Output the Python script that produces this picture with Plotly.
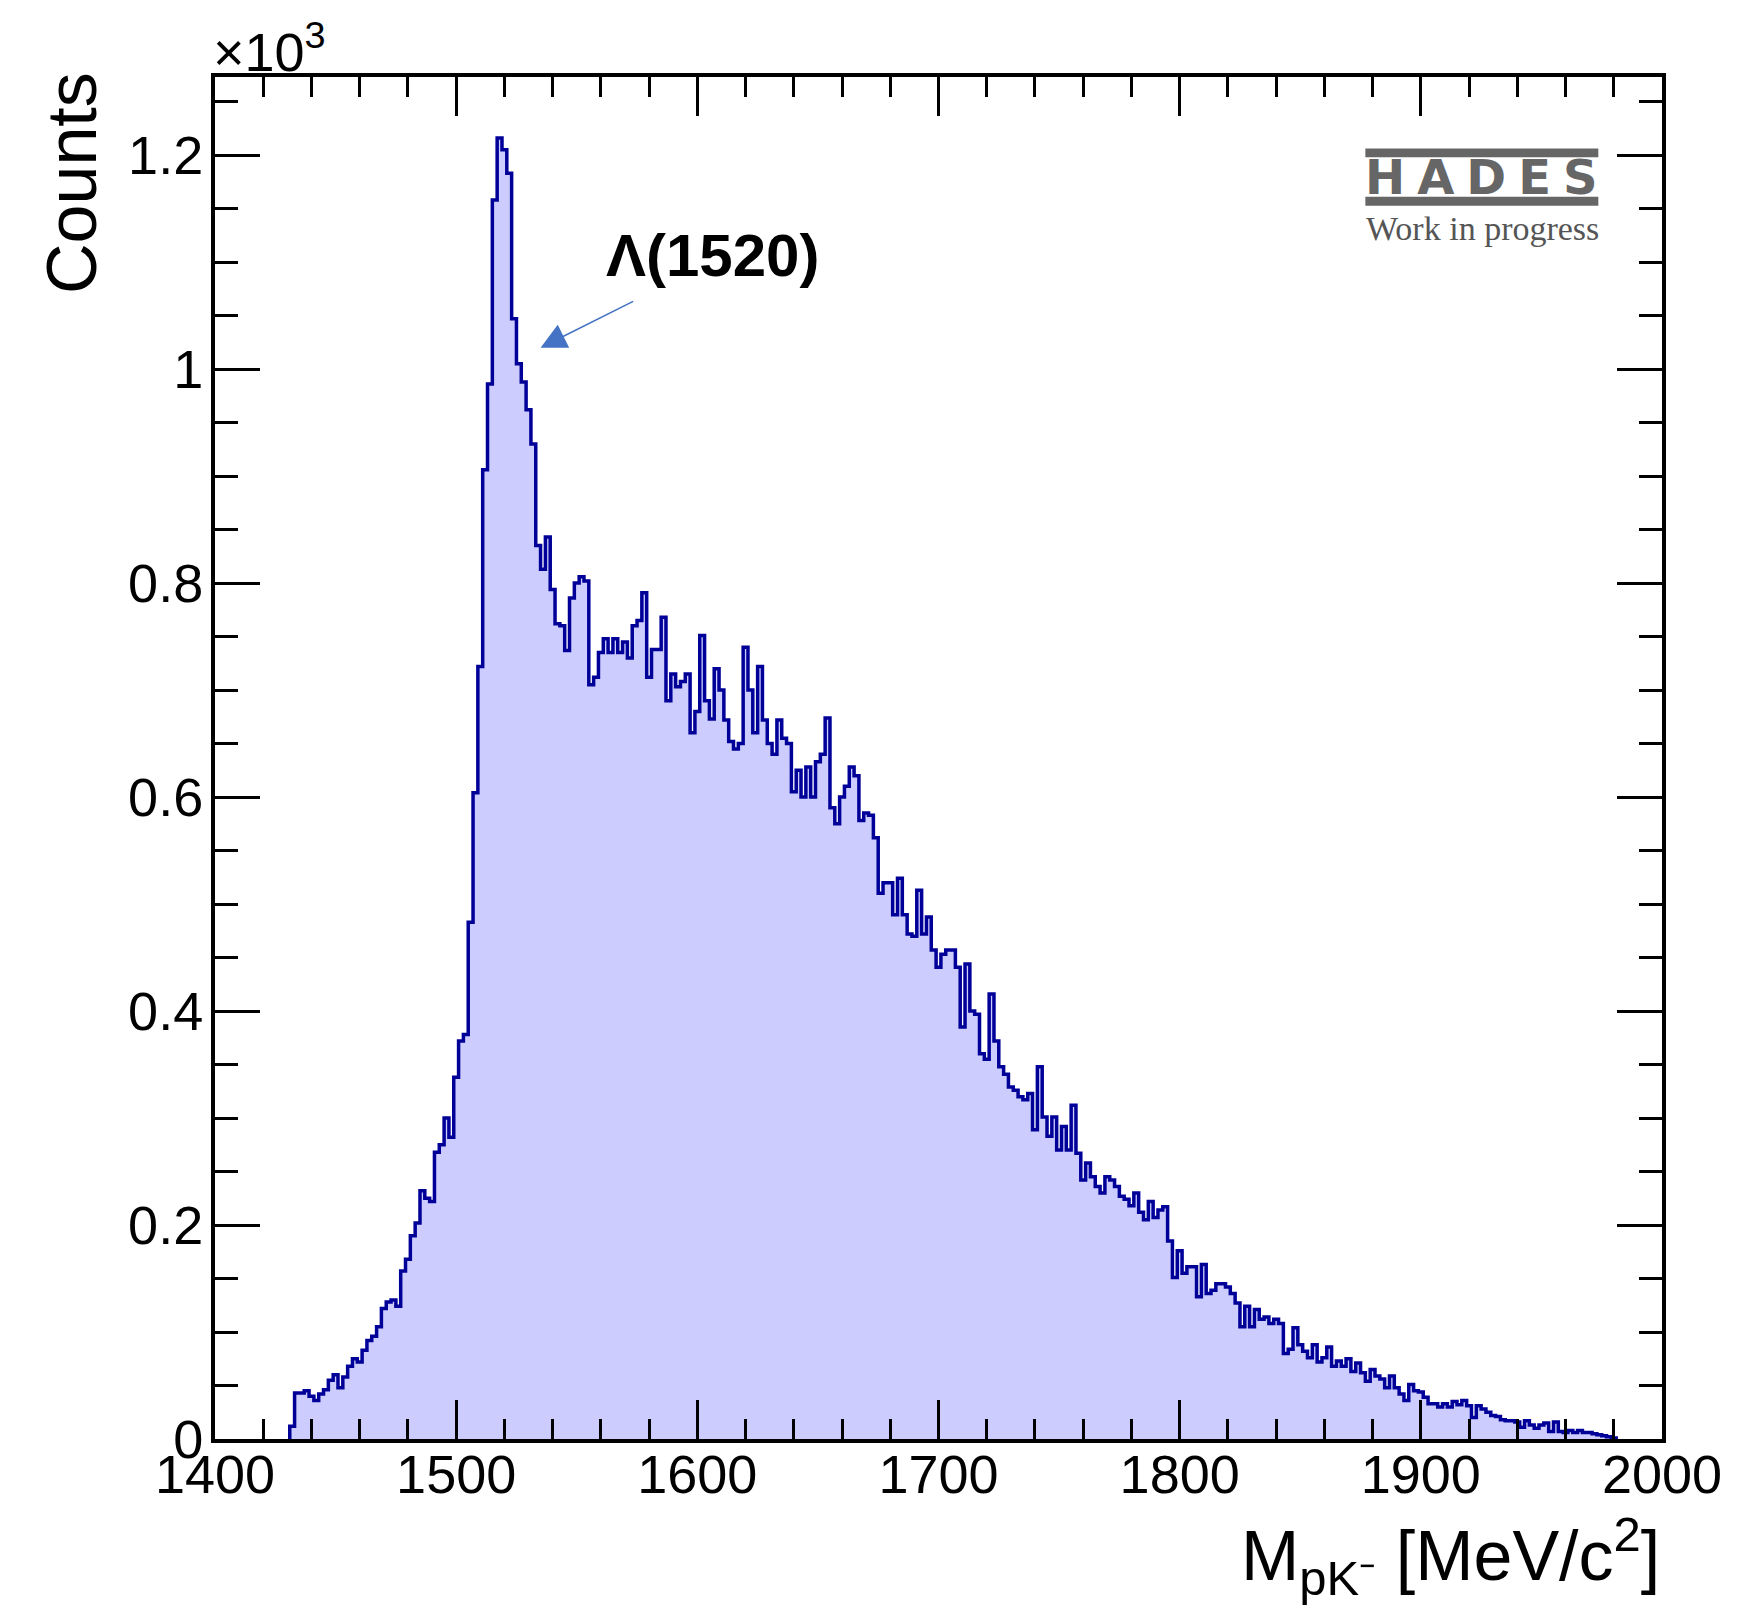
import numpy as np
import plotly.graph_objects as go

# ---------------- data ----------------
BIN_START = 1431     # MeV/c^2, lower edge of first filled bin
BIN_WIDTH = 2        # MeV/c^2

counts = [
    12, 43, 43, 45, 40, 36, 42, 46, 55, 60,
    48, 58, 68, 75, 72, 83, 92, 96, 105, 122,
    128, 130, 124, 157, 168, 190, 202, 232, 225, 222,
    268, 275, 300, 282, 338, 372, 378, 483, 604, 722,
    906, 986, 1158, 1216, 1205, 1183, 1047, 1005, 988, 962,
    930, 835, 813, 843, 794, 762, 760, 737, 786, 800,
    806, 802, 705, 712, 735, 748, 735, 748, 735, 745,
    730, 760, 765, 791, 712, 738, 738, 768, 690, 715,
    703, 708, 715, 660, 680, 751, 690, 673, 720, 700,
    672, 652, 645, 650, 740, 700, 660, 722, 672, 650,
    640, 672, 655, 650, 605, 625, 600, 628, 600, 633,
    640, 674, 590, 575, 600, 610, 628, 620, 578, 585,
    583, 562, 510, 520, 520, 490, 524, 490, 472, 470,
    513, 472, 488, 457, 441, 453, 457, 457, 441, 385,
    444, 400, 397, 360, 355, 416, 372, 348, 341, 329,
    326, 320, 317, 323, 289, 348, 301, 283, 301, 270,
    292, 270, 312, 267, 242, 258, 245, 236, 230, 245,
    242, 236, 227, 224, 218, 230, 212, 205, 222, 207,
    214, 217, 185, 151, 176, 155, 161, 161, 133, 163,
    136, 139, 145, 145, 142, 136, 127, 105, 124, 105,
    121, 112, 114, 108, 112, 108, 80, 84, 104, 88,
    82, 76, 88, 72, 76, 86, 68, 73, 68, 75,
    63, 71, 62, 54, 65, 59, 56, 48, 59, 48,
    42, 36, 51, 45, 44, 39, 33, 33, 30, 33,
    30, 35, 32, 36, 31, 20, 31, 28, 25, 22,
    21, 18, 17, 17, 16, 11, 17, 13, 10, 13,
    15, 7, 16, 7, 6, 8, 6, 8, 6, 6,
    5, 4, 3, 2, 1,
]

x_tickvals = [1400, 1500, 1600, 1700, 1800, 1900, 2000]
x_ticktext = ["1400", "1500", "1600", "1700", "1800", "1900", "2000"]
y_tickvals = [0, 200, 400, 600, 800, 1000, 1200]
y_ticktext = ["0", "0.2", "0.4", "0.6", "0.8", "1", "1.2"]

X_RANGE = [1400, 2000]
Y_RANGE = [0, 1273]

# ---------------- figure ----------------
edges = BIN_START + BIN_WIDTH * np.arange(len(counts) + 1)
xs = [edges[0]] + list(edges[:-1]) + [edges[-1]]
ys = [0] + list(counts) + [0]

LINE = "#000099"
FILL = "#CCCCFF"
FONT = "Liberation Sans"

fig = go.Figure()
fig.add_trace(go.Scatter(
    x=xs, y=ys, mode="lines",
    line=dict(shape="hv", color=LINE, width=3.5),
    fill="tozeroy", fillcolor=FILL,
    hoverinfo="skip", showlegend=False,
))

axis_common = dict(
    showgrid=False, zeroline=False, automargin=False,
    showline=True, linewidth=4, linecolor="black",
    mirror="ticks", ticks="inside", tickwidth=3, tickcolor="black",
    tickfont=dict(family=FONT, size=54, color="black"),
)

fig.update_xaxes(
    range=X_RANGE, tickmode="array", tickvals=x_tickvals, ticktext=x_ticktext,
    ticklen=39, ticklabelstandoff=-15,
    minor=dict(tickmode="array", tickvals=list(np.arange(1400, 2001, 20)),
               ticks="inside", ticklen=20, tickwidth=3, tickcolor="black"),
    **axis_common,
)
fig.update_yaxes(
    range=Y_RANGE, tickmode="array", tickvals=y_tickvals, ticktext=y_ticktext,
    ticklen=45, ticklabelstandoff=-3,
    minor=dict(tickmode="array", tickvals=list(np.arange(0, 1273, 50)),
               ticks="inside", ticklen=23, tickwidth=3, tickcolor="black"),
    **axis_common,
)

annotations = [
    # x10^3 multiplier
    dict(text="×10<sup>3</sup>", xref="paper", yref="paper", x=-0.003, y=1,
         xanchor="left", yanchor="bottom", yshift=-7, showarrow=False,
         font=dict(family=FONT, size=54, color="black")),
    # y title
    dict(text="Counts", xref="paper", yref="paper", x=-0.099, y=0.922,
         xanchor="center", yanchor="middle", textangle=-90, showarrow=False,
         font=dict(family=FONT, size=70, color="black")),
    # x title
    dict(text="M<sub>pK⁻</sub> [MeV/c<sup>2</sup>]", xref="paper", yref="paper",
         x=1, y=-0.086, xanchor="right", yanchor="middle", showarrow=False,
         font=dict(family=FONT, size=70, color="black")),
    # Lambda label
    dict(text="<b>Λ(1520)</b>", xref="paper", yref="paper", x=0.344, y=0.869,
         xanchor="center", yanchor="middle", showarrow=False,
         font=dict(family=FONT, size=60, color="black")),
    # arrow
    dict(text="", x=1535, y=1020, xref="x", yref="y",
         ax=1574, ay=1064, axref="x", ayref="y",
         showarrow=True, arrowhead=2, arrowsize=3.2, arrowwidth=1.6,
         arrowcolor="#4472C4"),
    # HADES logo text
    dict(text="<b>H\u2005A\u2005D\u2005E\u2005S</b>", xref="paper", yref="paper",
         x=0.8755, y=0.9265, xanchor="center", yanchor="middle", showarrow=False,
         font=dict(family="DejaVu Sans", size=48, color="#666666")),
    dict(text="Work in progress", xref="paper", yref="paper",
         x=0.794, y=0.8885, xanchor="left", yanchor="middle", showarrow=False,
         font=dict(family="Liberation Serif", size=34, color="#555555")),
]

shapes = [
    dict(type="rect", xref="paper", yref="paper", x0=0.795, x1=0.956,
         y0=0.9410, y1=0.9475, fillcolor="#666666", line=dict(width=0)),
    dict(type="rect", xref="paper", yref="paper", x0=0.795, x1=0.956,
         y0=0.9055, y1=0.912, fillcolor="#666666", line=dict(width=0)),
]

# page body adds an 8 px offset; margins compensate so the frame sits where
# the reference frame sits
fig.update_layout(
    width=1749, height=1608, autosize=False,
    margin=dict(l=207, r=95, t=69, b=177, pad=0),
    paper_bgcolor="white", plot_bgcolor="white",
    annotations=annotations, shapes=shapes,
    showlegend=False,
)

fig.write_html("out.html")
